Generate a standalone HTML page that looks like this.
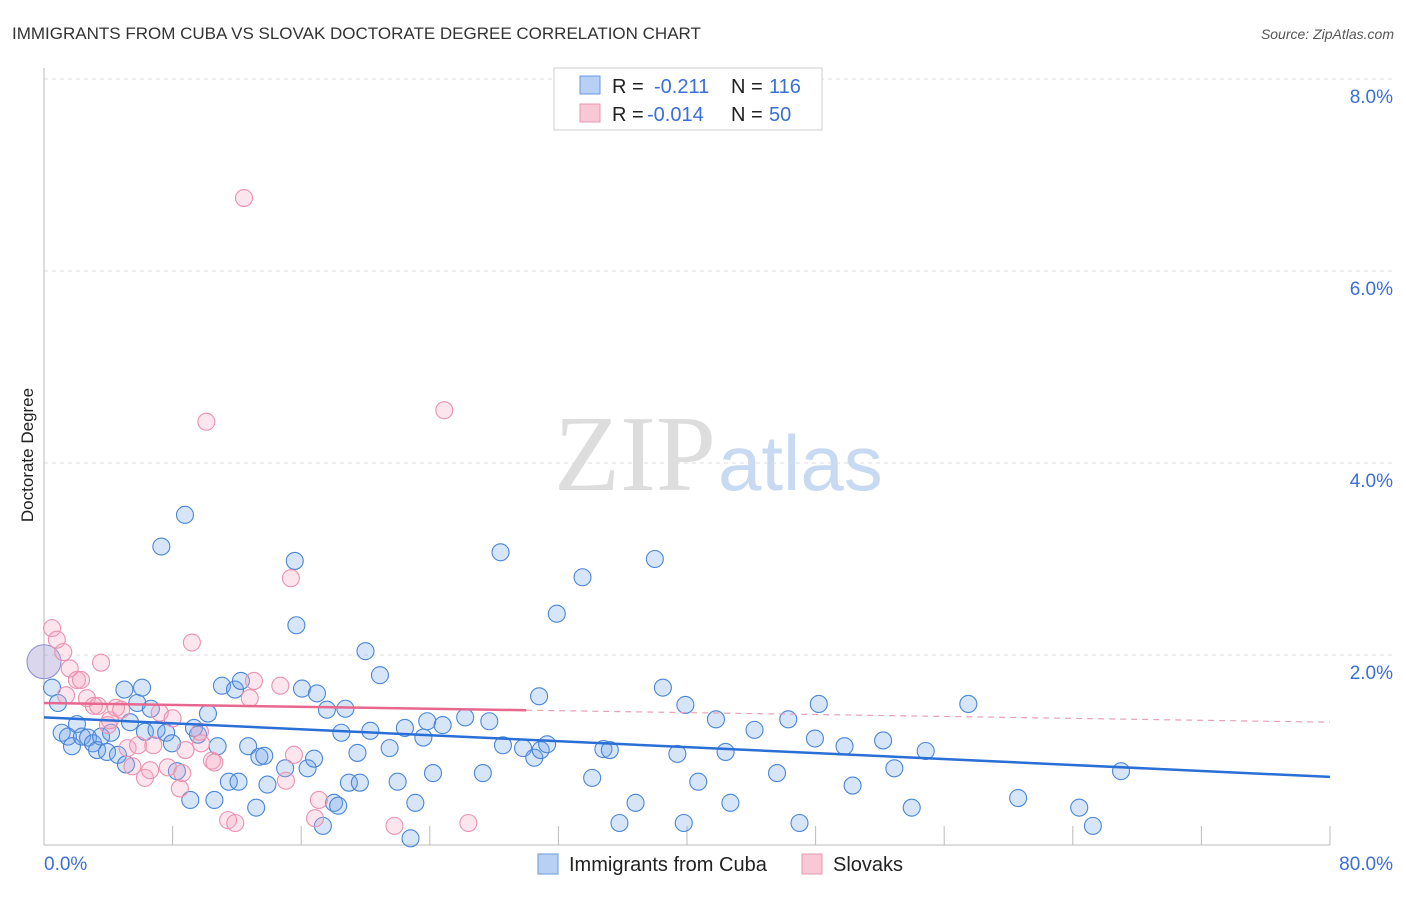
<!DOCTYPE html>
<html><head><meta charset="utf-8"><style>
body{margin:0;background:#fff;font-family:"Liberation Sans",sans-serif}
</style></head><body>
<svg id="c" width="1406" height="892" xmlns="http://www.w3.org/2000/svg">
<text x="12" y="39" font-size="17" fill="#333">IMMIGRANTS FROM CUBA VS SLOVAK DOCTORATE DEGREE CORRELATION CHART</text>
<text x="1394" y="39" font-size="14" font-style="italic" fill="#555" text-anchor="end">Source: ZipAtlas.com</text>
<text x="716" y="490" font-size="108" font-family="Liberation Serif,serif" fill="#ddd" text-anchor="end">ZIP</text>
<text x="718" y="490" font-size="78" fill="#c8daf2">atlas</text>
<text transform="translate(33,455) rotate(-90)" font-size="17" fill="#222" text-anchor="middle">Doctorate Degree</text>
<g id="grid"></g><g id="pts"></g><g id="lines"></g>
<g>
<rect x="554" y="68" width="268" height="62" fill="#fff" stroke="#ccc"/>
<rect x="580" y="76" width="20" height="18" fill="#b8d0f4" stroke="#6a9ae0"/>
<rect x="580" y="104" width="20" height="18" fill="#f8c8d6" stroke="#e898b0"/>
<text x="612" y="93" font-size="20" fill="#222">R =</text><text x="654" y="93" font-size="20" fill="#3a6fd8">-0.211</text>
<text x="731" y="93" font-size="20" fill="#222">N =</text><text x="769" y="93" font-size="20" fill="#3a6fd8">116</text>
<text x="612" y="121" font-size="20" fill="#222">R =</text><text x="647" y="121" font-size="20" fill="#3a6fd8">-0.014</text>
<text x="731" y="121" font-size="20" fill="#222">N =</text><text x="769" y="121" font-size="20" fill="#3a6fd8">50</text>
</g>
<g>
<rect x="538" y="854" width="20" height="20" fill="#b8d0f4" stroke="#6a9ae0"/>
<text x="569" y="871" font-size="20" fill="#222">Immigrants from Cuba</text>
<rect x="802" y="854" width="20" height="20" fill="#f8c8d6" stroke="#e898b0"/>
<text x="833" y="871" font-size="20" fill="#222">Slovaks</text>
</g>
</svg>
<script>
const yTicks=[2,4,6,8];
const yTickLabels=["2.0%","4.0%","6.0%","8.0%"];
const xEndLabels=["0.0%","80.0%"];
const blueX=[0.5,0.87,1.1,1.49,1.74,2.05,2.36,2.74,3.05,3.3,3.55,3.92,4.17,4.6,5.0,5.1,5.35,5.8,6.1,6.28,6.65,7.0,7.3,7.6,7.96,8.27,8.77,9.1,9.33,9.58,10.2,10.6,10.8,11.07,11.5,11.88,12.1,12.25,12.7,13.2,13.4,13.7,13.9,15.0,15.6,15.7,16.05,16.4,16.8,16.98,17.35,17.6,18.04,18.3,18.75,18.97,18.5,19.5,19.65,20.0,20.3,20.9,21.5,22.0,22.45,22.8,23.1,23.6,23.84,24.2,24.8,26.2,27.3,27.7,28.4,28.55,29.8,30.5,30.9,30.8,31.3,31.9,33.5,34.1,34.8,35.2,35.8,36.8,38.0,38.5,39.4,39.8,39.9,40.7,41.8,42.4,42.7,44.2,45.6,46.3,47.0,47.96,48.2,49.8,50.3,52.2,52.9,53.98,54.85,57.5,60.6,64.4,65.25,67.0];
const blueY=[1.66,1.5,1.19,1.15,1.05,1.28,1.15,1.14,1.08,1.01,1.15,0.99,1.19,0.96,1.64,0.86,1.3,1.5,1.66,1.2,1.44,1.22,3.13,1.19,1.08,0.79,3.46,0.49,1.24,1.17,1.39,0.49,1.05,1.68,0.68,1.64,0.68,1.73,1.05,0.41,0.94,0.95,0.65,0.82,2.98,2.31,1.65,0.82,0.92,1.6,0.22,1.43,0.46,0.43,1.44,0.67,1.19,0.98,0.67,2.04,1.21,1.79,1.03,0.68,1.24,0.09,0.46,1.14,1.31,0.77,1.27,1.35,0.77,1.31,3.07,1.06,1.03,0.93,1.01,1.57,1.07,2.43,2.81,0.72,1.02,1.01,0.25,0.46,3.0,1.66,0.97,0.25,1.48,0.68,1.33,0.99,0.46,1.22,0.77,1.33,0.25,1.13,1.49,1.05,0.64,1.11,0.82,0.41,1.0,1.49,0.51,0.41,0.22,0.79];
const pinkX=[0.5,0.8,1.2,1.6,1.37,2.05,2.3,2.67,3.1,3.36,3.55,3.98,4.1,4.48,4.8,5.2,5.5,5.85,6.28,6.6,6.8,7.2,7.7,8.0,8.45,8.6,8.8,9.2,9.7,10.1,9.77,10.45,10.6,11.45,11.9,12.44,12.8,13.06,14.7,15.05,15.36,15.55,16.86,17.1,21.8,24.9,26.4];
const pinkY=[2.28,2.16,2.03,1.86,1.58,1.74,1.74,1.55,1.47,1.47,1.92,1.27,1.32,1.45,1.43,1.03,0.84,1.06,0.72,0.8,1.06,1.4,0.83,1.34,0.61,0.77,1.01,2.13,1.2,4.43,1.08,0.9,0.88,0.28,0.25,6.76,1.55,1.73,1.68,0.69,2.8,0.96,0.3,0.49,0.22,4.55,0.25];
const blueTrend=[1.35,0.73];
const pinkTrend=[1.5,1.3];
const pinkSolidEnd=30;
const NS="http://www.w3.org/2000/svg";
const X=v=>44+v/80*1286, Y=v=>847-v*96;
function mk(t,a,p){const e=document.createElementNS(NS,t);for(const k in a)e.setAttribute(k,a[k]);p.appendChild(e);return e;}
const g=document.getElementById('grid');
yTicks.forEach((t,i)=>{
 const l=mk('line',{x1:44,x2:1395,y1:Y(t),y2:Y(t),stroke:'#ddd','stroke-dasharray':'4,4'},g);
 
 
 const tx=mk('text',{x:1393,y:Y(t)+24,'font-size':19,fill:'#3a6fd8','text-anchor':'end'},g);tx.textContent=yTickLabels[i];
 
 
});
const ax=mk('line',{x1:44,x2:1330,y1:845,y2:845,stroke:'#bbb'},g);


const ay=mk('line',{x1:44,x2:44,y1:68,y2:845,stroke:'#bbb'},g);


for(let i=1;i<=10;i++){const t=mk('line',{x1:X(i*8),x2:X(i*8),y1:826,y2:845,stroke:'#bbb'},g);
 
 }
xEndLabels.forEach((s,i)=>{const t=mk('text',{x:i?1393:44,y:870,'font-size':19,fill:'#3a6fd8','text-anchor':i?'end':'start'},g);t.textContent=s;
 
 });
const p=document.getElementById('pts');
const big=mk('circle',{cx:X(0),cy:Y(1.93),r:17,fill:'rgba(150,140,200,0.35)',stroke:'#8a8ad0'},p);


blueX.forEach((v,i)=>{const c=mk('circle',{cx:X(v),cy:Y(blueY[i]),r:8.5,fill:'rgba(110,160,235,0.28)',stroke:'#4a86d8','stroke-width':1.1},p);
 
 });
pinkX.forEach((v,i)=>{const c=mk('circle',{cx:X(v),cy:Y(pinkY[i]),r:8.5,fill:'rgba(245,160,190,0.28)',stroke:'#eb92ae','stroke-width':1.1},p);
 
 });
const L=document.getElementById('lines');
const b=mk('line',{x1:X(0),y1:Y(blueTrend[0]),x2:X(80),y2:Y(blueTrend[1]),stroke:'#2a6fd6','stroke-width':2.5},L);


const pm=pinkTrend[0]+(pinkTrend[1]-pinkTrend[0])*pinkSolidEnd/80;
const ps=mk('line',{x1:X(0),y1:Y(pinkTrend[0]),x2:X(pinkSolidEnd),y2:Y(pm),stroke:'#e8678f','stroke-width':2.5},L);


const pd=mk('line',{x1:X(pinkSolidEnd),y1:Y(pm),x2:X(80),y2:Y(pinkTrend[1]),stroke:'#e8a0b6','stroke-width':1.2,'stroke-dasharray':'6,5'},L);


</script>
</body></html>
